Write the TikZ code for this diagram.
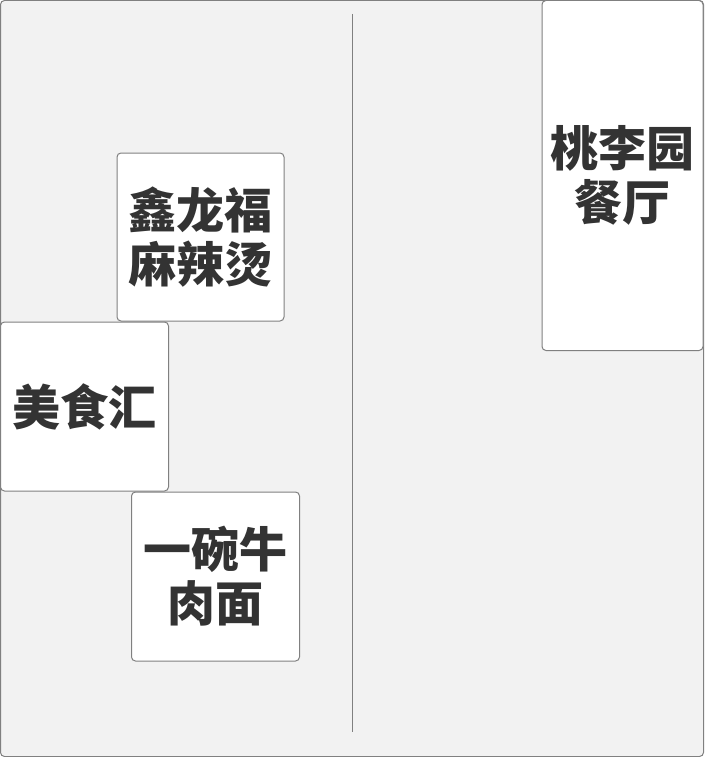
\documentclass[tikz,border=0pt]{standalone}
\usepackage{fontspec}
\newfontfamily\cjk{Noto Sans CJK SC}
\begin{document}
\begin{tikzpicture}[x=1pt,y=-1pt,
  every node/.style={inner sep=0pt,outer sep=0pt},
  frame/.style={draw=black!50,line width=1pt,rounded corners=4pt,fill=black!5},
  shop/.style={draw=black!50,line width=1pt,rounded corners=4pt,fill=white,
    align=center,text=black!80,font=\cjk\bfseries\fontsize{48}{54}\selectfont},
  divider/.style={draw=black!50,line width=1pt}]
  \useasboundingbox (0,0) rectangle (704,757);
  % outer area
  \path[frame] (0.5,0.5) rectangle (703.5,756.5);
  % dividing line between the two halves
  \coordinate (top) at (352,14);
  \coordinate (bottom) at (352,732);
  \draw[divider] (top) -- (bottom);
  % shops
  \node[shop,minimum width=161pt,minimum height=350pt] (taoli) at (622.5,175.5) {桃李园\\餐厅};
  \node[shop,minimum width=167pt,minimum height=168pt] (xinlong) at (200.5,237) {鑫龙福\\麻辣烫};
  \node[shop,minimum width=168pt,minimum height=169pt] (meishi) at (84.5,406.5) {美食汇};
  \node[shop,minimum width=168pt,minimum height=169pt] (yiwan) at (215.5,576.5) {一碗牛\\肉面};
\end{tikzpicture}
\end{document}
